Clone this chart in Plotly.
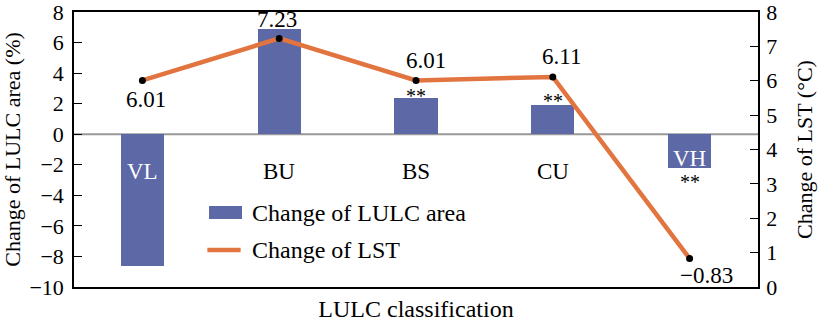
import plotly.graph_objects as go

# LULC classes and their changes
categories = ["VL", "BU", "BS", "CU", "VH"]
lulc_area_change = [-8.65, 6.86, 2.35, 1.92, -2.18]      # %
lst_change = [6.01, 7.23, 6.01, 6.11, 0.83]               # °C, plotted
lst_labels = ["6.01", "7.23", "6.01", "6.11", "\u22120.83"]
significance = ["", "", "**", "**", "**"]

FONT = "Liberation Serif, Times New Roman, serif"
FS = 22
BAR_COLOR = "#5D68A6"
LINE_COLOR = "#E2743F"

fig = go.Figure()

fig.add_trace(go.Bar(
    x=categories, y=lulc_area_change, width=0.315,
    marker=dict(color=BAR_COLOR, line=dict(width=0)),
    name="Change of LULC area", showlegend=False,
))
fig.add_trace(go.Scatter(
    x=categories, y=lst_change, yaxis="y2", mode="lines+markers",
    line=dict(color=LINE_COLOR, width=4.5),
    marker=dict(color="black", size=7),
    name="Change of LST", showlegend=False, cliponaxis=False,
))

annotations = []
# value labels beside the LST points (pixel offsets)
label_offsets = [(4, -19), (-2, 19), (10, 20), (9, 20), (17, -17)]
for cat, val, txt, (dx, dy) in zip(categories, lst_change, lst_labels, label_offsets):
    annotations.append(dict(x=cat, y=val, xref="x", yref="y2", text=txt,
                            showarrow=False, xshift=dx, yshift=dy,
                            font=dict(family=FONT, size=23, color="black")))

# significance markers next to the bars
star_shift = {"BS": 2, "CU": 4, "VH": -14}
for cat, val, sig in zip(categories, lulc_area_change, significance):
    if sig:
        annotations.append(dict(x=cat, y=val, xref="x", yref="y", text=sig,
                                showarrow=False, yshift=star_shift[cat],
                                font=dict(family=FONT, size=20, color="black")))

# class names inside the plot
for cat, val in zip(categories, lulc_area_change):
    inside = cat in ("VL", "VH")
    ypos = 0.468 if cat == "VH" else 0.419
    annotations.append(dict(x=cat, y=ypos, xref="x", yref="paper", text=cat,
                            showarrow=False,
                            font=dict(family=FONT, size=23,
                                      color="white" if inside else "black")))

# legend entries
annotations.append(dict(x=0.2573, y=0.2705, xref="paper", yref="paper",
                        text="Change of LULC area", showarrow=False,
                        xanchor="left", yanchor="middle",
                        font=dict(family=FONT, size=24, color="black")))
annotations.append(dict(x=0.2573, y=0.1345, xref="paper", yref="paper",
                        text="Change of LST", showarrow=False,
                        xanchor="left", yanchor="middle",
                        font=dict(family=FONT, size=24, color="black")))

shapes = [
    # zero reference line
    dict(type="line", xref="paper", yref="y", x0=0, x1=1, y0=0, y1=0,
         line=dict(color="#999999", width=2), layer="below"),
    # legend swatches
    dict(type="rect", xref="paper", yref="paper", x0=0.1974, x1=0.2456,
         y0=0.2473, y1=0.2945, fillcolor=BAR_COLOR, line=dict(width=0)),
    dict(type="line", xref="paper", yref="paper", x0=0.195, x1=0.2436,
         y0=0.1345, y1=0.1345, line=dict(color=LINE_COLOR, width=4.5)),
]

axis_common = dict(showline=True, linecolor="black", linewidth=1.5,
                   showgrid=False, zeroline=False, ticks="inside",
                   ticklen=8, tickcolor="black", tickwidth=1.2,
                   automargin=False, ticklabeloverflow="allow",
                   tickfont=dict(family=FONT, size=FS, color="black"))

fig.update_layout(
    width=823, height=323,
    margin=dict(l=74, r=65, t=12, b=36),
    paper_bgcolor="white", plot_bgcolor="white",
    font=dict(family=FONT, size=FS, color="black"),
    bargap=0,
    xaxis=dict(range=[-0.5, 4.5], showticklabels=False, ticks="",
               showline=True, linecolor="black", linewidth=1.5, mirror=True,
               showgrid=False, zeroline=False, automargin=False,
               title=dict(text="LULC classification", standoff=12,
                          font=dict(family=FONT, size=24))),
    yaxis=dict(range=[-10, 8], dtick=2, ticklabelstandoff=4, **axis_common,
               title=dict(text="Change of LULC area (%)", standoff=4,
                          font=dict(family=FONT, size=FS))),
    yaxis2=dict(range=[0, 8], dtick=1, overlaying="y", side="right",
                ticklabelstandoff=2, **axis_common,
                title=dict(text="Change of LST (°C)", standoff=20,
                           font=dict(family=FONT, size=FS))),
    annotations=annotations,
    shapes=shapes,
)

fig.write_html("out.html")
